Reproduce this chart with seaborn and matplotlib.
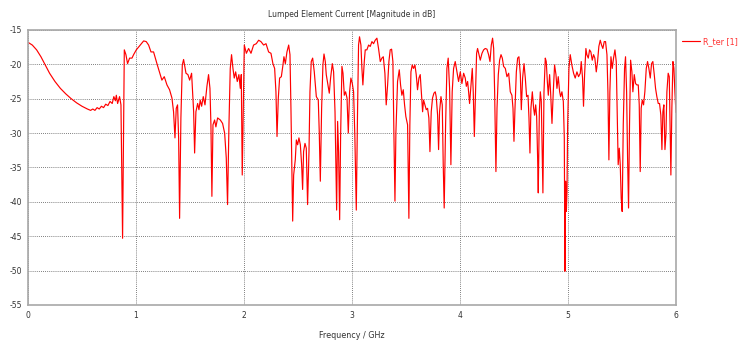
import matplotlib
matplotlib.use("Agg")
import matplotlib.pyplot as plt
import seaborn as sns
import pandas as pd

# frequency sweep (GHz) and lumped element current magnitude (dB)
freq_ghz = [
    0.00, 0.04, 0.08, 0.12, 0.16, 0.20, 0.25, 0.30, 0.35, 0.40, 0.45, 0.50, 0.55, 0.58,
    0.60, 0.62, 0.64, 0.66, 0.68, 0.70, 0.72, 0.74, 0.76, 0.78, 0.795, 0.81, 0.818, 0.830,
    0.848, 0.861, 0.876, 0.892,
    0.907, 0.922, 0.941, 0.963, 0.978, 1.003, 1.040, 1.071, 1.095, 1.117, 1.139, 1.163,
    1.194, 1.225, 1.240, 1.262, 1.287, 1.311, 1.333, 1.348, 1.361, 1.373, 1.385, 1.395,
    1.404, 1.416, 1.429, 1.441, 1.463, 1.481, 1.497, 1.515, 1.534, 1.543, 1.555, 1.571,
    1.583, 1.595, 1.608, 1.623, 1.639, 1.657, 1.672, 1.685, 1.694, 1.703, 1.713, 1.728,
    1.740, 1.756, 1.781, 1.802, 1.821, 1.836, 1.848, 1.861, 1.873, 1.885, 1.898, 1.910,
    1.923, 1.938, 1.953, 1.966, 1.975, 1.984,
    2.003, 2.022, 2.043, 2.065, 2.089, 2.114, 2.136, 2.157, 2.182, 2.204, 2.228, 2.250,
    2.268, 2.284, 2.296, 2.306, 2.318, 2.330, 2.346, 2.361, 2.370, 2.383, 2.398, 2.414,
    2.426, 2.435, 2.444, 2.451, 2.460, 2.475, 2.485, 2.497, 2.509, 2.522, 2.534, 2.543,
    2.552, 2.565, 2.577, 2.589, 2.602, 2.611, 2.623, 2.636, 2.651, 2.670, 2.688, 2.697,
    2.707, 2.719, 2.731, 2.741, 2.753, 2.762, 2.778, 2.790, 2.802, 2.818, 2.830, 2.843,
    2.852, 2.858, 2.867, 2.876, 2.886, 2.895, 2.907, 2.917, 2.929, 2.941, 2.954, 2.966,
    2.978,
    2.990, 3.003, 3.015, 3.027, 3.040, 3.052, 3.061, 3.070, 3.083, 3.092, 3.101, 3.114,
    3.123, 3.138, 3.154, 3.169, 3.185, 3.200, 3.215, 3.231, 3.246, 3.262, 3.277, 3.290,
    3.305, 3.317, 3.330, 3.342, 3.354, 3.367, 3.379, 3.388, 3.398, 3.407, 3.422, 3.438,
    3.450, 3.462, 3.475, 3.487, 3.499, 3.515, 3.527, 3.536, 3.546, 3.558, 3.570, 3.583,
    3.595, 3.607, 3.620, 3.632, 3.644, 3.654, 3.663, 3.675, 3.688, 3.700, 3.712, 3.722,
    3.734, 3.746, 3.759, 3.771, 3.780, 3.793, 3.802, 3.811, 3.824, 3.836, 3.845, 3.854,
    3.867, 3.879, 3.891, 3.904, 3.916, 3.928, 3.941, 3.956, 3.972, 3.987,
    4.003, 4.018, 4.034, 4.049, 4.059, 4.071, 4.080, 4.089, 4.102, 4.114, 4.123, 4.133,
    4.142, 4.154, 4.163, 4.176, 4.188, 4.204, 4.219, 4.234, 4.250, 4.265, 4.278, 4.290,
    4.302, 4.312, 4.321, 4.333, 4.343, 4.355, 4.367, 4.380, 4.392, 4.404, 4.420, 4.435,
    4.451, 4.466, 4.481, 4.491, 4.500, 4.509, 4.522, 4.534, 4.546, 4.559, 4.568, 4.580,
    4.593, 4.605, 4.617, 4.630, 4.639, 4.648, 4.657, 4.670, 4.682, 4.691, 4.701, 4.710,
    4.719, 4.725, 4.735, 4.744, 4.753, 4.762, 4.768, 4.778, 4.790, 4.799, 4.809, 4.818,
    4.830, 4.839, 4.852, 4.864, 4.876, 4.889, 4.898, 4.910, 4.923, 4.932, 4.944, 4.957,
    4.966, 4.972, 4.978, 4.985, 4.991, 4.997, 5.009,
    5.021, 5.036, 5.052, 5.067, 5.083, 5.098, 5.114, 5.123, 5.135, 5.144, 5.154, 5.166,
    5.175, 5.188, 5.200, 5.212, 5.225, 5.237, 5.249, 5.262, 5.274, 5.286, 5.299, 5.311,
    5.323, 5.336, 5.348, 5.361, 5.370, 5.379, 5.388, 5.398, 5.410, 5.422, 5.435, 5.447,
    5.456, 5.465, 5.475, 5.484, 5.493, 5.502, 5.512, 5.524, 5.533, 5.543, 5.552, 5.561,
    5.570, 5.580, 5.592, 5.601, 5.614, 5.626, 5.638, 5.651, 5.660, 5.669, 5.678, 5.688,
    5.700, 5.712, 5.725, 5.737, 5.749, 5.762, 5.774, 5.786, 5.799, 5.811, 5.823, 5.836,
    5.848, 5.860, 5.870, 5.879, 5.888, 5.898, 5.907, 5.916, 5.928, 5.938, 5.947, 5.953,
    5.962, 5.972, 5.981, 5.990, 6.000,
]
mag_db = [
    -16.8, -17.2, -17.9, -18.9, -20.1, -21.3, -22.5, -23.5, -24.3, -25.0, -25.6, -26.1, -26.5, -26.7,
    -26.5, -26.7, -26.3, -26.5, -26.1, -26.3, -25.8, -26.0, -25.4, -25.7, -24.7, -25.3, -24.5, -25.7,
    -24.7, -25.9, -45.3, -17.9,
    -18.6, -19.9, -19.1, -19.1, -18.6, -17.9, -17.2, -16.6, -16.7, -17.2, -18.2, -18.2,
    -19.9, -21.5, -22.3, -21.8, -23.0, -23.7, -24.9, -26.9, -30.7, -26.4, -25.9, -30.7,
    -42.4, -27.8, -20.1, -19.3, -21.3, -21.5, -22.3, -21.3, -26.9, -32.9, -26.9, -25.7,
    -26.6, -25.2, -26.1, -24.7, -25.9, -23.2, -21.5, -23.5, -28.8, -39.2, -28.8, -28.1,
    -29.1, -27.8, -28.1, -28.6, -30.0, -33.6, -40.4, -28.8, -20.6, -18.6, -20.6, -22.0,
    -21.1, -22.5, -21.5, -23.5, -21.5, -36.1,
    -17.2, -18.4, -17.7, -18.4, -17.2, -17.0, -16.5, -16.7, -17.2, -17.0, -18.2, -18.4,
    -19.9, -20.6, -24.0, -30.5, -24.9, -22.0, -21.8, -20.1, -18.9, -19.9, -18.2, -17.2,
    -18.6, -26.4, -36.1, -42.8, -36.1, -33.9, -31.0, -31.7, -30.7, -31.7, -34.6, -38.2,
    -32.7, -31.5, -32.2, -40.4, -32.7, -24.0, -19.6, -19.1, -21.1, -24.7, -25.2, -29.8,
    -37.0, -26.4, -20.1, -18.5, -19.6, -21.5, -23.0, -24.2, -22.0, -19.9, -21.1, -26.9,
    -36.1, -41.2, -28.3, -32.7, -42.6, -30.3, -20.3, -21.3, -24.5, -24.0, -24.9, -30.0,
    -24.0,
    -22.0, -22.8, -24.0, -30.7, -41.2, -26.4, -17.2, -16.0, -17.2, -20.6, -23.0, -19.6,
    -17.9, -17.9, -17.2, -17.4, -16.7, -17.0, -16.5, -16.2, -17.7, -19.6, -19.1, -18.9,
    -21.3, -25.9, -23.0, -19.6, -17.9, -17.8, -19.6, -29.8, -39.9, -29.8, -22.5, -20.8,
    -23.0, -24.5, -23.7, -25.9, -27.6, -28.8, -42.4, -28.8, -21.1, -20.1, -20.6, -20.1,
    -21.5, -23.7, -22.0, -21.5, -24.5, -26.9, -25.2, -25.9, -26.6, -26.4, -27.8, -32.7,
    -26.9, -24.9, -24.2, -24.0, -24.7, -27.4, -32.4, -26.9, -24.7, -25.9, -34.6, -40.9,
    -28.8, -20.6, -19.1, -23.5, -34.6, -24.0, -20.6, -19.6, -21.1, -22.5,
    -21.1, -22.8, -21.3, -22.0, -23.2, -22.5, -24.0, -25.7, -23.0, -20.6, -24.0, -30.5,
    -25.4, -18.4, -17.7, -18.6, -19.4, -18.4, -17.9, -17.7, -17.8, -18.6, -19.6, -17.2,
    -16.2, -17.7, -24.0, -35.6, -26.4, -21.5, -19.4, -18.6, -19.1, -20.3, -20.6, -21.8,
    -21.3, -24.0, -24.5, -26.4, -31.2, -26.6, -21.1, -19.1, -18.9, -21.5, -26.6, -22.0,
    -19.9, -22.0, -24.7, -24.5, -27.8, -32.9, -26.4, -24.0, -26.4, -27.4, -25.9, -27.6,
    -33.6, -38.7, -26.9, -24.0, -25.4, -33.6, -38.7, -24.0, -19.1, -19.6, -22.5, -24.5,
    -21.5, -24.0, -28.6, -24.0, -20.1, -21.5, -23.5, -21.8, -24.0, -24.7, -24.0, -25.4,
    -30.7, -50.1, -37.0, -41.4, -38.5, -28.8, -20.6,
    -18.6, -20.1, -21.3, -22.0, -21.1, -21.8, -21.3, -19.6, -22.0, -26.1, -21.5, -17.7,
    -18.6, -19.1, -17.9, -18.2, -19.4, -18.6, -19.1, -21.1, -19.6, -17.4, -16.5, -17.2,
    -17.7, -16.7, -16.7, -18.6, -24.0, -33.9, -24.0, -18.9, -20.6, -19.1, -17.9, -19.6,
    -26.9, -34.6, -32.2, -34.6, -39.5, -41.4, -28.8, -20.6, -18.9, -24.0, -33.6, -40.9,
    -28.8, -19.4, -21.1, -24.0, -21.5, -22.8, -23.0, -23.0, -25.9, -35.6, -26.4, -25.2,
    -25.9, -24.0, -20.6, -19.6, -20.6, -22.0, -19.9, -19.6, -21.5, -23.5, -24.7, -25.7,
    -25.7, -27.4, -32.4, -26.9, -25.9, -32.4, -30.3, -24.0, -21.3, -21.8, -30.3, -36.1,
    -26.4, -19.6, -20.6, -24.0, -27.0,
]
series_label = "R_ter [1]"
x_ticks = [0, 1, 2, 3, 4, 5, 6]
y_ticks = [-55, -50, -45, -40, -35, -30, -25, -20, -15]

df = pd.DataFrame({"freq": freq_ghz, "mag": mag_db})

sns.set_style("white")
plt.rcParams["font.family"] = ["DejaVu Sans"]
plt.rcParams["axes.unicode_minus"] = False

fig = plt.figure(figsize=(7.42, 3.40), dpi=100)
ax = fig.add_axes([0.0377, 0.103, 0.8733, 0.809])

sns.lineplot(data=df, x="freq", y="mag", color="#ff0000", linewidth=0.85,
             sort=False, estimator=None, label=series_label, ax=ax)

ax.set_xlim(0, 6)
ax.set_ylim(-55, -15)
ax.set_xticks(x_ticks)
ax.set_yticks(y_ticks)
ax.grid(True, linestyle=(0, (1, 1.5)), color="#555555", linewidth=0.6)

for sp in ax.spines.values():
    sp.set_color("#a8a8a8")
    sp.set_linewidth(1.2)

ax.tick_params(axis="both", labelsize=5.5, labelcolor="#333333", color="#888888",
               length=2.5, width=0.8, direction="out", pad=2)

ax.set_title("Lumped Element Current [Magnitude in dB]", fontsize=5.5, color="#333333", pad=9)
ax.set_xlabel("Frequency / GHz", fontsize=5.8, color="#333333", labelpad=8)
ax.set_ylabel("")

ax.legend(loc="upper left", bbox_to_anchor=(1.005, 0.985), frameon=False,
          fontsize=5.8, labelcolor="#ff3333", handlelength=2.2, handletextpad=0.3,
          borderaxespad=0)

fig.savefig("out.png", dpi=100)
